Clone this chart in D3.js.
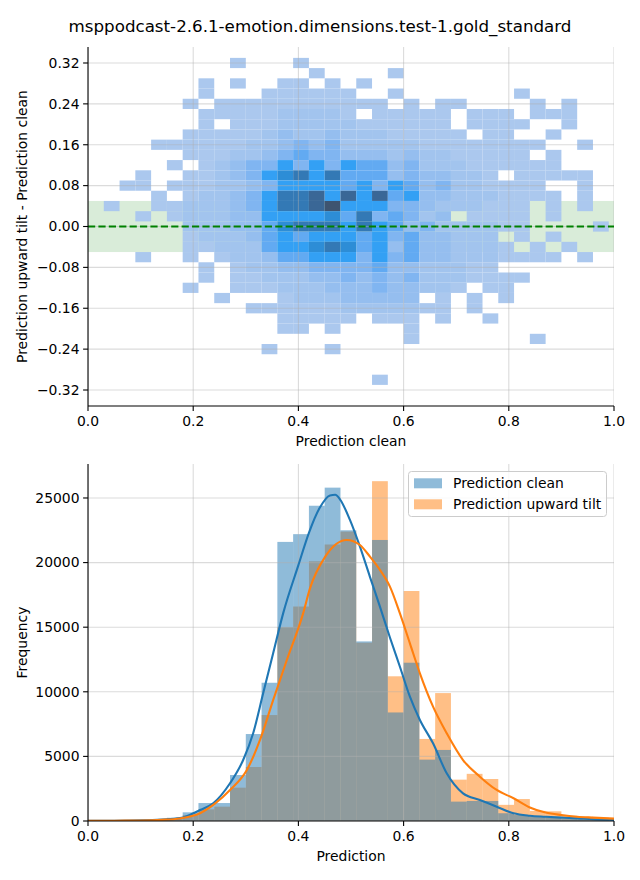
<!DOCTYPE html>
<html><head><meta charset="utf-8">
<script src="https://cdn.jsdelivr.net/npm/d3@7"></script>
<style>body{margin:0;background:#fff} svg{display:block} text{font-family:"DejaVu Sans",sans-serif;fill:#000}</style>
</head><body><svg id="c" width="640" height="880"></svg>
<script>
// ---------------- data ----------------
const chartTitle = "msppodcast-2.6.1-emotion.dimensions.test-1.gold_standard";
const xTicks = [0, 0.2, 0.4, 0.6, 0.8, 1.0];
const diffTicks = [-0.32, -0.24, -0.16, -0.08, 0, 0.08, 0.16, 0.24, 0.32];
const freqTicks = [0, 5000, 10000, 15000, 20000, 25000];
const binWidth = 0.03;          // prediction bin width (both panels)
const diffBinHeight = 0.02;     // difference bin height
const diffTopCenter = 0.32;     // centre of first heatmap row
const bandLimit = 0.05;         // green tolerance band +/-
// heatmap density level per cell ('.' = empty, 1..9, a = densest)
// rows: difference bins from 0.32 down to -0.30; columns: prediction bins of 0.03 (groups of 5)
const heatRows = [
  "..... ....1 ...1. ..... ..... ..... ...",
  "..... ..... ....1 ....1 ..... ..... ...",
  "..... ..1.1 ..11. 1.1.. ..... ..... ...",
  "..... ..1.. .1111 11..1 ..... ..1.. ...",
  "..... .1.11 11111 1111. 1.11. ...1. 1..",
  "..... ..111 11222 21.11 111.1 11.11 1..",
  "..... ..1.1 11222 22111 111.1 111.. 1..",
  "..... .1111 12322 32221 1111. 11..1 ...",
  "....1 11111 22343 42222 21111 1111. .1.",
  "..... .1112 23454 43332 32211 111.1 ...",
  "..... 1.123 44646 46553 42221 11111 ...",
  "...1. .1123 46786 85553 43322 1.111 11.",
  "..11. 11122 34666 65646 53422 1111. .1.",
  "....1 .1223 46889 69695 63322 21111 .1.",
  ".1..1 12223 46889 a6664 43222 111.1 .1.",
  "...1. 12223 36666 75845 423.1 111.1 ...",
  "..... .2223 35788 86865 34222 211.. ..1",
  "..... .1222 35656 66564 53322 2.1.1 ...",
  "..... .1122 25667 87563 53322 21.1. 1..",
  "...1. .1.12 23556 66464 53322 21111 .1.",
  "..... ..1.1 22334 44453 32221 1.... ...",
  "..... ..1.1 12223 34343 42221 111.. ...",
  "..... .1..1 11222 33343 3221. 11... ...",
  "..... ...1. ..122 23333 3.1.1 .1... ...",
  "..... ..... 11111 12222 211.1 ..... ...",
  "..... ..... ..111 11.11 1.1.. 1.... ...",
  "..... ..... ..11. 1.... 1.... ..... ...",
  "..... ..... ..... ..... 1.... ...1. ...",
  "..... ..... .1... 1.... ..... ..... ...",
  "..... ..... ..... ..... ..... ..... ...",
  "..... ..... ..... ..... ..... ..... ...",
  "..... ..... ..... ...1. ..... ..... ..."
];
// histogram counts per 0.03-wide bin starting at 0.00
const cleanCounts = [20, 20, 30, 60, 120, 250, 670, 1390, 1390, 3560, 6730, 10700, 21600, 22200, 24400, 25800, 22500, 13900, 21750, 8400, 12250, 4750, 5500, 1500, 1550, 1550, 600, 460, 350, 280, 150, 120, 80];
const tiltCounts  = [20, 20, 25, 50, 100, 200, 450, 900, 1110, 2580, 4180, 8200, 15000, 16600, 20100, 21400, 22400, 13800, 26300, 11200, 17800, 6350, 9900, 3200, 3650, 3250, 1250, 1700, 780, 750, 400, 330, 260];
// density curves (prediction, frequency)
const kdeClean = [[0.00,20],[0.05,25],[0.10,50],[0.14,110],[0.175,220],[0.213,850],[0.238,1370],[0.27,2920],[0.295,4720],[0.314,6790],[0.333,9880],[0.352,12980],[0.371,16070],[0.40,19800],[0.42,22300],[0.44,24200],[0.46,25200],[0.47,25250],[0.479,24900],[0.498,23300],[0.517,21230],[0.536,18900],[0.555,16590],[0.574,14200],[0.593,11940],[0.612,9620],[0.631,7820],[0.656,6010],[0.682,3690],[0.713,2140],[0.745,1630],[0.777,1110],[0.809,600],[0.84,410],[0.87,330],[0.90,260],[0.93,200],[0.96,130],[1.00,80]];
const kdeTilt = [[0.00,20],[0.05,25],[0.10,40],[0.14,90],[0.175,200],[0.213,600],[0.24,1300],[0.27,2400],[0.302,3950],[0.327,6270],[0.352,9360],[0.378,12460],[0.409,16070],[0.422,18000],[0.451,20460],[0.492,21750],[0.517,21360],[0.536,20460],[0.555,19430],[0.574,18140],[0.593,16070],[0.612,13750],[0.631,11430],[0.656,8850],[0.682,6790],[0.713,4720],[0.745,3430],[0.777,2400],[0.809,1760],[0.84,1050],[0.87,650],[0.90,460],[0.93,330],[0.96,260],[1.00,180]];
const seriesNames = ["Prediction clean", "Prediction upward tilt"];

// ---------------- styles ----------------
const levelColors = {"1":"#abc8ee","2":"#a2c4ee","3":"#95beef","4":"#80b5f1","5":"#62aaf2","6":"#33a0f4","7":"#2d8dd6","8":"#3379b5","9":"#3a6796","a":"#3e5470"};
const blue = "#1f77b4", orange = "#ff7f0e";
const FS = 13.9;

const svg = d3.select("#c");
svg.append("text").attr("x", 320).attr("y", 32).attr("text-anchor", "middle")
  .style("font-size", "16.7px").text(chartTitle);

function axesFrame(g, x, y, yTicks, yFmt, xLabel, yLabel) {
  const [x0, x1] = x.range(), [yb, yt] = y.range();
  g.append("line").attr("x1", x0).attr("x2", x0).attr("y1", yt).attr("y2", yb).attr("stroke", "#000").attr("stroke-width", 1.1);
  g.append("line").attr("x1", x0).attr("x2", x1).attr("y1", yb).attr("y2", yb).attr("stroke", "#000").attr("stroke-width", 1.1);
  xTicks.forEach(t => {
    g.append("line").attr("x1", x(t)).attr("x2", x(t)).attr("y1", yb).attr("y2", yb + 4.9).attr("stroke", "#000").attr("stroke-width", 1.1);
    g.append("text").attr("x", x(t)).attr("y", yb + 9.7).attr("dy", "0.76em").attr("text-anchor", "middle").style("font-size", FS + "px").text(d3.format(".1f")(t));
  });
  yTicks.forEach(t => {
    g.append("line").attr("x1", x0 - 4.9).attr("x2", x0).attr("y1", y(t)).attr("y2", y(t)).attr("stroke", "#000").attr("stroke-width", 1.1);
    g.append("text").attr("x", x0 - 8.5).attr("y", y(t)).attr("dy", "0.35em").attr("text-anchor", "end").style("font-size", FS + "px").text(yFmt(t));
  });
  g.append("text").attr("x", (x0 + x1) / 2).attr("y", yb + 40).attr("text-anchor", "middle").style("font-size", FS + "px").text(xLabel);
  g.append("text").attr("transform", `translate(22,${(yb + yt) / 2}) rotate(-90)`).attr("dy", "0.35em").attr("text-anchor", "middle").style("font-size", FS + "px").text(yLabel);
}
function grid(g, x, y, yTicks) {
  const [x0, x1] = x.range(), [yb, yt] = y.range();
  xTicks.forEach(t => g.append("line").attr("x1", x(t)).attr("x2", x(t)).attr("y1", yt).attr("y2", yb).attr("stroke", "#b0b0b0").attr("stroke-opacity", 0.45).attr("stroke-width", 1.1));
  yTicks.forEach(t => g.append("line").attr("x1", x0).attr("x2", x1).attr("y1", y(t)).attr("y2", y(t)).attr("stroke", "#b0b0b0").attr("stroke-opacity", 0.45).attr("stroke-width", 1.1));
}
const minusFmt = v => { const s = d3.format(".2f")(Math.abs(v)); return v < -1e-9 ? "\u2212" + s : s; };

// ---------------- top panel ----------------
const xT = d3.scaleLinear().domain([0, 1]).range([88, 614]);
const yT = d3.scaleLinear().domain([-0.3513, 0.3513]).range([406, 47]);
const gT = svg.append("g");
svg.append("clipPath").attr("id", "clipT").append("rect").attr("x", 88).attr("y", 47).attr("width", 526).attr("height", 359);
const gTc = gT.append("g").attr("clip-path", "url(#clipT)");
gTc.append("rect").attr("x", xT(0)).attr("width", xT(1) - xT(0)).attr("y", yT(bandLimit)).attr("height", yT(-bandLimit) - yT(bandLimit)).attr("fill", "green").attr("fill-opacity", 0.15);
const cells = [];
heatRows.forEach((rowStr, j) => {
  const row = rowStr.replace(/ /g, "");
  const c = diffTopCenter - j * diffBinHeight;
  for (let k = 0; k < row.length; k++) if (row[k] !== ".") cells.push({k, c, lvl: row[k]});
});
gTc.selectAll("rect.cell").data(cells).enter().append("rect").attr("class", "cell")
  .attr("x", d => xT(d.k * binWidth)).attr("width", d => xT((d.k + 1) * binWidth) - xT(d.k * binWidth))
  .attr("y", d => yT(d.c + diffBinHeight / 2)).attr("height", d => yT(d.c - diffBinHeight / 2) - yT(d.c + diffBinHeight / 2))
  .attr("fill", d => levelColors[d.lvl]);
grid(gTc, xT, yT, diffTicks);
gTc.append("line").attr("x1", xT(0)).attr("x2", xT(1)).attr("y1", yT(0)).attr("y2", yT(0)).attr("stroke", "green").attr("stroke-width", 2.1).attr("stroke-dasharray", "7.2,3.2");
axesFrame(gT, xT, yT, diffTicks, minusFmt, "Prediction clean", "Prediction upward tilt - Prediction clean");

// ---------------- bottom panel ----------------
const xB = d3.scaleLinear().domain([0, 1]).range([88, 614]);
const yB = d3.scaleLinear().domain([0, 27630]).range([821, 464]);
const gB = svg.append("g");
svg.append("clipPath").attr("id", "clipB").append("rect").attr("x", 88).attr("y", 464).attr("width", 526).attr("height", 357);
const gBc = gB.append("g").attr("clip-path", "url(#clipB)");
function bars(counts, color) {
  gBc.append("g").selectAll("rect").data(counts).enter().append("rect")
    .attr("x", (d, i) => xB(i * binWidth)).attr("width", (d, i) => xB((i + 1) * binWidth) - xB(i * binWidth))
    .attr("y", d => yB(d)).attr("height", d => yB(0) - yB(d))
    .attr("fill", color).attr("fill-opacity", 0.5);
}
bars(tiltCounts, orange);
bars(cleanCounts, blue);
grid(gBc, xB, yB, freqTicks);
const line = d3.line().x(d => xB(d[0])).y(d => yB(d[1])).curve(d3.curveMonotoneX);
gBc.append("path").attr("d", line(kdeClean)).attr("fill", "none").attr("stroke", blue).attr("stroke-width", 2.1);
gBc.append("path").attr("d", line(kdeTilt)).attr("fill", "none").attr("stroke", orange).attr("stroke-width", 2.1);
axesFrame(gB, xB, yB, freqTicks, d3.format("d"), "Prediction", "Frequency");

// legend
const lg = gB.append("g");
lg.append("rect").attr("x", 408.5).attr("y", 471.5).attr("width", 198).attr("height", 45).attr("rx", 3)
  .attr("fill", "#fff").attr("fill-opacity", 0.8).attr("stroke", "#cccccc").attr("stroke-width", 1);
[[blue, seriesNames[0], 483.3], [orange, seriesNames[1], 504.3]].forEach(([col, name, cy]) => {
  lg.append("rect").attr("x", 414).attr("y", cy - 5).attr("width", 28).attr("height", 10).attr("fill", col).attr("fill-opacity", 0.5);
  lg.append("text").attr("x", 453).attr("y", cy).attr("dy", "0.35em").style("font-size", FS + "px").text(name);
});
</script></body></html>
